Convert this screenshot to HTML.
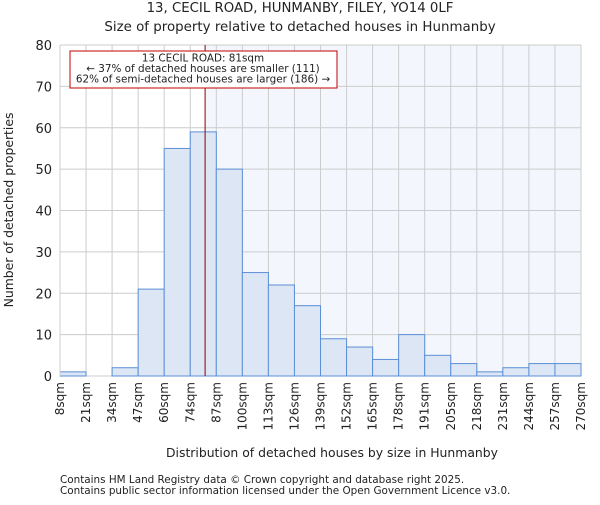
<!DOCTYPE html>
<html><head><meta charset="utf-8"><style>
body{margin:0;background:#fff;}
svg text{font-family:"DejaVu Sans","Liberation Sans",sans-serif;fill:#222;}
</style></head><body>
<svg id="chart" width="600" height="500" viewBox="0 0 600 500">
<text x="300" y="12" font-size="13.3" text-anchor="middle">13, CECIL ROAD, HUNMANBY, FILEY, YO14 0LF</text>
<text x="300" y="31" font-size="13.4" text-anchor="middle">Size of property relative to detached houses in Hunmanby</text>
<g id="plot"></g>
<text x="332" y="457" font-size="12.4" text-anchor="middle">Distribution of detached houses by size in Hunmanby</text>
<text transform="translate(13,210) rotate(-90)" font-size="12.4" text-anchor="middle">Number of detached properties</text>
<text x="60" y="483" font-size="10.4" fill="#555">Contains HM Land Registry data © Crown copyright and database right 2025.</text>
<text x="60" y="494" font-size="10.4" fill="#555">Contains public sector information licensed under the Open Government Licence v3.0.</text>
</svg>
<script>
const binLabels=["8sqm","21sqm","34sqm","47sqm","60sqm","74sqm","87sqm","100sqm","113sqm","126sqm","139sqm","152sqm","165sqm","178sqm","191sqm","205sqm","218sqm","231sqm","244sqm","257sqm","270sqm"];
const counts=[1,0,2,21,55,59,50,25,22,17,9,7,4,10,5,3,1,2,3,3];
const yTicks=[0,10,20,30,40,50,60,70,80];
const markerBin=5.57;
const NS="http://www.w3.org/2000/svg";
const X0=60,X1=581,Y0=376,Y1=45,YMAX=80;
const nb=counts.length;
const xs=i=>X0+(X1-X0)*i/nb;
const ys=v=>Y0-(Y0-Y1)*v/YMAX;
const g=document.getElementById('plot');
function mk(t,a){const e=document.createElementNS(NS,t);for(const k in a)e.setAttribute(k,a[k]);g.appendChild(e);return e;}
let e;
e=mk('rect',{x:X0,y:Y1,width:X1-X0,height:Y0-Y1,fill:'#fff'});


const mx=xs(markerBin);
e=mk('rect',{x:mx,y:Y1,width:X1-mx,height:Y0-Y1,fill:'#f3f6fd'});


yTicks.forEach(t=>{
 e=mk('line',{x1:X0,x2:X1,y1:ys(t),y2:ys(t),stroke:'#ccc','stroke-width':1});
 
 
 e=mk('text',{x:X0-8,y:ys(t)+5,'font-size':13,'text-anchor':'end'});e.textContent=t;
 
 
});
binLabels.forEach((l,i)=>{
 e=mk('line',{x1:xs(i),x2:xs(i),y1:Y1,y2:Y0,stroke:'#ccc','stroke-width':1});
 
 
 const x=xs(i);
 e=mk('text',{x:x+4,y:Y0+6,'font-size':12,'text-anchor':'end',transform:`rotate(-90 ${x+4} ${Y0+6})`});e.textContent=l;
 
 
});
counts.forEach((v,i)=>{
 if(v<=0)return;
 e=mk('rect',{x:xs(i),y:ys(v),width:xs(i+1)-xs(i),height:Y0-ys(v),fill:'#dce6f5',stroke:'#5b8fd6','stroke-width':1});
 
 
});
e=mk('line',{x1:X0,x2:X0,y1:Y1,y2:Y0,stroke:'#ccc'});


e=mk('line',{x1:mx,x2:mx,y1:Y1,y2:Y0,stroke:'#900000','stroke-width':1});


e=mk('rect',{x:70,y:51,width:267,height:37,fill:'#fff',stroke:'#c00000','stroke-width':1});


const lines=["13 CECIL ROAD: 81sqm","← 37% of detached houses are smaller (111)","62% of semi-detached houses are larger (186) →"];
lines.forEach((s,i)=>{
 e=mk('text',{x:203,y:61.5+i*10.5,'font-size':10.4,'text-anchor':'middle'});e.textContent=s;
 
 
});
</script>
</body></html>
